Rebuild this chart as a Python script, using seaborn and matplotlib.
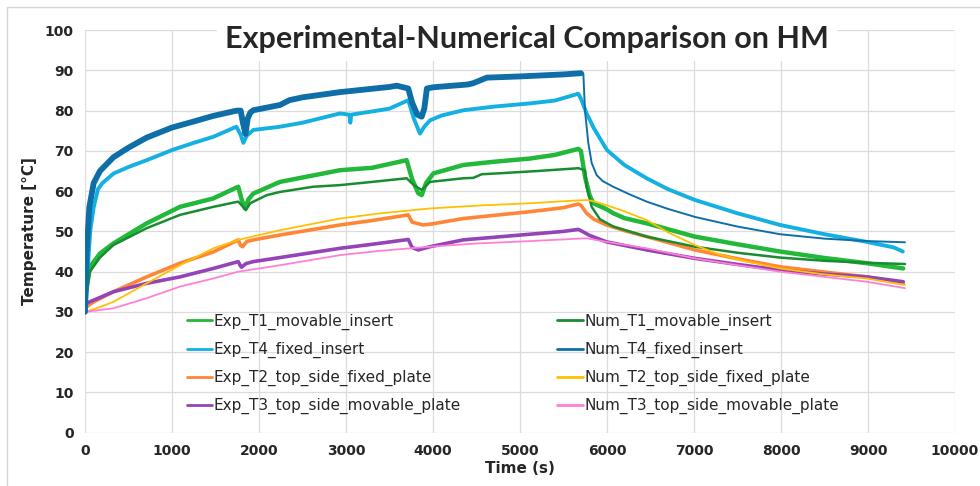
#import libaries
import numpy as np
import pandas as pd
from matplotlib import pyplot as plt
from matplotlib.patches import Rectangle
import seaborn as sns

sns.set_style("whitegrid")

# values (time in s, temperature in degC)
t_exp_t1 = [0, 20, 57, 172, 326, 709, 1092, 1475, 1762, 1800, 1839, 1880, 1935, 2241, 2931, 3300, 3697,
            3760, 3830, 3870, 3920, 4004, 4349, 4700, 5115, 5400, 5670, 5700, 5747, 5800, 5843, 5996,
            6073, 6200, 6456, 7011, 7500, 7989, 8500, 8985, 9405]
T_exp_t1 = [31, 36, 41.2, 44.5, 47, 52, 56.1, 58.2, 61.1, 58, 55.7, 58, 59.4, 62.3, 65.2, 65.8, 67.7,
            63, 59.5, 59, 62, 64.4, 66.5, 67.3, 68.1, 69, 70.5, 70, 63.6, 59, 57, 55.5,
            54.5, 53.3, 52, 48.7, 46.8, 45, 43.4, 42.1, 40.8]

t_num_t1 = [0, 20, 57, 172, 326, 709, 1092, 1475, 1762, 1800, 1850, 1900, 2088, 2241, 2624, 2931, 3300,
            3697, 3780, 3870, 3966, 4349, 4464, 4560, 4732, 5200, 5670, 5747, 5766, 5824, 5920, 6073,
            6456, 7011, 7500, 7989, 8500, 8985, 9425]
T_num_t1 = [31, 35, 40, 43.5, 46.6, 50.8, 54.1, 56.1, 57.4, 56.5, 55.3, 57, 59, 59.8, 61.1, 61.5, 62.3,
            63.2, 61.5, 60.3, 62.3, 63.2, 63.3, 64.2, 64.4, 65, 65.7, 65.2, 61.1, 56.1, 53, 51.2,
            48.7, 46.2, 44.7, 43.5, 42.7, 42.2, 41.9]

t_exp_t4 = [0, 30, 60, 100, 150, 200, 330, 500, 710, 1000, 1250, 1475, 1740, 1790, 1820, 1860, 1935,
            2240, 2500, 2930, 3040, 3050, 3060, 3300, 3500, 3716, 3780, 3850, 3900, 3966, 4100, 4350,
            4700, 5115, 5400, 5670, 5700, 5766, 5850, 6000, 6200, 6456, 6700, 7011, 7500, 7990, 8500,
            8985, 9300, 9400]
T_exp_t4 = [30.5, 40, 50, 56, 60.5, 62, 64.4, 66, 67.7, 70.2, 72, 73.5, 76, 74, 72, 73.8, 75.2,
            76, 77, 79.3, 79, 77, 79, 79.8, 80.5, 82.6, 78, 74.3, 76, 77.6, 78.8, 80.1,
            81, 81.8, 82.5, 84.2, 83, 79.3, 75.6, 70.2, 66.5, 63.2, 60.5, 57.8, 54.5, 51.6, 49.3,
            47.4, 46, 45]

t_num_t4 = [0, 20, 50, 100, 172, 326, 500, 709, 1000, 1250, 1475, 1743, 1790, 1815, 1845, 1870, 1900,
            1935, 2241, 2350, 2500, 2931, 3506, 3583, 3716, 3760, 3820, 3870, 3900, 3930, 4000, 4400,
            4460, 4620, 5000, 5500, 5700, 5728, 5747, 5785, 5824, 5881, 5950, 6071, 6250, 6456, 6700,
            7011, 7500, 7989, 8500, 8985, 9425]
T_num_t4 = [30, 45, 56, 62, 65, 68.4, 70.8, 73.3, 75.8, 77.3, 78.7, 80, 80, 77, 74.2, 78, 79.5,
            80.1, 81.4, 82.6, 83.3, 84.6, 85.9, 86.2, 85.5, 82, 79, 78.5, 80.5, 85.5, 85.8, 86.5,
            86.8, 88.2, 88.5, 89, 89.3, 89.3, 80, 72, 67, 64, 62.5, 61.1, 59.3, 57.4, 55.6,
            53.6, 51.2, 49.3, 48.2, 47.6, 47.3]

t_exp_t2 = [0, 100, 326, 709, 1092, 1475, 1762, 1790, 1812, 1860, 1935, 2241, 2931, 3300, 3716, 3760,
            3889, 4000, 4349, 5115, 5500, 5670, 5700, 5766, 5850, 5996, 6200, 6456, 7011, 7500, 7989,
            8500, 8985, 9405]
T_exp_t2 = [31, 32.5, 35, 38.7, 42.1, 44.9, 47.9, 46.5, 46.2, 47.5, 47.9, 49.1, 51.6, 52.7, 54.1, 52.3,
            51.6, 51.9, 53.2, 54.9, 55.9, 56.8, 56.5, 54.5, 53, 51.6, 50.2, 48.7, 45.4, 43.2, 41.2,
            39.9, 38.7, 37.1]

t_num_t2 = [0, 134, 326, 709, 1092, 1475, 1762, 2241, 2931, 3400, 3966, 4500, 5115, 5500, 5766, 5843,
            5996, 6200, 6456, 6700, 7011, 7300, 7605, 7989, 8500, 8985, 9425]
T_num_t2 = [30, 30.9, 32.5, 37.1, 41.6, 45.8, 47.9, 50.3, 53.2, 54.5, 55.7, 56.4, 57, 57.5, 57.8, 57.5,
            56.5, 55, 52.8, 49.8, 46.6, 44.2, 42.5, 40.8, 39.3, 38.3, 36.7]

t_exp_t3 = [0, 326, 709, 1092, 1475, 1762, 1790, 1800, 1850, 1935, 2241, 2931, 3300, 3716, 3760, 3831,
            3966, 4349, 5115, 5500, 5670, 5700, 5800, 5996, 6456, 7011, 7500, 7989, 8500, 8985, 9405]
T_exp_t3 = [32, 35, 37.1, 38.7, 40.8, 42.5, 41.3, 41.1, 42, 42.5, 43.5, 45.8, 46.8, 48, 46, 45.4,
            46.2, 47.9, 49.3, 50, 50.5, 50.2, 49, 47.4, 45.4, 43.3, 41.8, 40.4, 39.4, 38.7, 37.5]

t_num_t3 = [0, 326, 709, 1092, 1475, 1762, 2241, 2931, 3400, 3966, 4500, 5115, 5766, 5996, 6456, 7011,
            7500, 7989, 8500, 8985, 9425]
T_num_t3 = [30, 30.9, 33.4, 36.3, 38.3, 40, 41.6, 44.1, 45.2, 46.2, 47, 47.6, 48.3, 47.4, 45.8, 43.3,
            41.6, 40, 38.7, 37.5, 35.9]

series_names = ['Exp_T1_movable_insert', 'Exp_T4_fixed_insert', 'Exp_T2_top_side_fixed_plate',
                'Exp_T3_top_side_movable_plate', 'Num_T1_movable_insert', 'Num_T4_fixed_insert',
                'Num_T2_top_side_fixed_plate', 'Num_T3_top_side_movable_plate']
series_t = [t_exp_t1, t_exp_t4, t_exp_t2, t_exp_t3, t_num_t1, t_num_t4, t_num_t2, t_num_t3]
series_T = [T_exp_t1, T_exp_t4, T_exp_t2, T_exp_t3, T_num_t1, T_num_t4, T_num_t2, T_num_t3]
colors = ['#22b83a', '#14b0e2', '#ff8636', '#9444b8', '#188c30', '#0e6fa8', '#ffc000', '#ff80d4']
widths = [3.2, 2.8, 2.6, 2.6, 1.8, 1.4, 1.3, 1.3]

fig = plt.figure(figsize=(9.8, 4.86), dpi=100)
ax = fig.add_axes([0.0867, 0.1097, 0.8878, 0.8283])

handles = []
for name, t, T, c, w in zip(series_names, series_t, series_T, colors, widths):
    df = pd.DataFrame({'t': t, 'T': T})
    sns.lineplot(data=df, x='t', y='T', color=c, lw=w, ax=ax, errorbar=None, sort=False)
    handles.append(plt.Line2D([], [], color=c, lw=2))

# the fixed insert numeric curve is a thick noisy band while heating
df = pd.DataFrame({'t': t_num_t4[:37], 'T': T_num_t4[:37]})
sns.lineplot(data=df, x='t', y='T', color=colors[5], lw=4.2, ax=ax, errorbar=None, sort=False)

ax.set_xlim(0, 10000)
ax.set_ylim(0, 100)
ax.set_xticks(np.arange(0, 10001, 1000))
ax.set_yticks(np.arange(0, 101, 10))
ax.grid(True, color='#dcdcdc', lw=0.9)
for s in ax.spines.values():
    s.set_visible(False)
ax.tick_params(length=0, labelsize=10, pad=8)
for lab in ax.get_xticklabels() + ax.get_yticklabels():
    lab.set_fontweight('bold')
ax.set_xlabel('Time (s)', fontsize=11, fontweight='bold', labelpad=2)
ax.set_ylabel('Temperature [°C]', fontsize=11, fontweight='bold', labelpad=6)

ax.text(0.508, 0.978, 'Experimental-Numerical Comparison on HM', transform=ax.transAxes,
        ha='center', va='center', fontsize=22, fontweight='bold', family='Lato',
        bbox=dict(facecolor='white', edgecolor='none', pad=6), zorder=5)

ax.legend(handles, series_names, ncol=2, frameon=False, loc='center left',
          bbox_to_anchor=(0.117, 0.1706), borderaxespad=0, borderpad=0,
          handlelength=1.65, handletextpad=0.12, labelspacing=0.78, columnspacing=6.3,
          prop={'family': 'DejaVu Sans', 'size': 11})

fig.patches.append(Rectangle((0.007, -0.05), 1.1, 1.0356, transform=fig.transFigure,
                             fill=False, edgecolor='#d6d6d6', lw=1))

plt.savefig('out.png', dpi=100)
